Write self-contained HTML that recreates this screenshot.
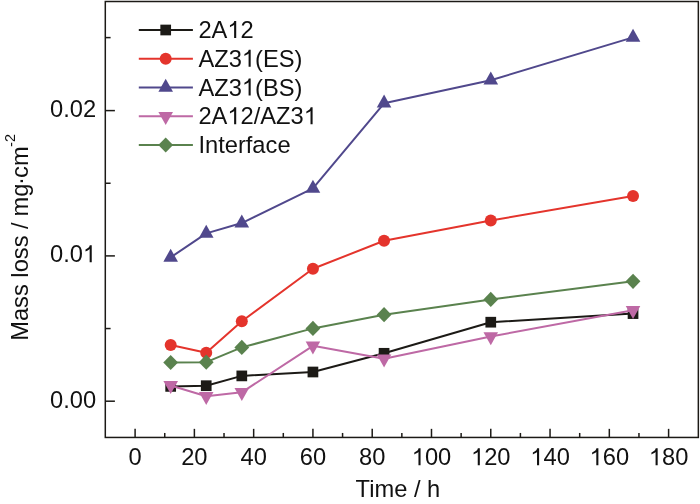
<!DOCTYPE html>
<html><head><meta charset="utf-8"><style>
html,body{margin:0;padding:0;background:#fff;}
body{width:700px;height:504px;overflow:hidden;}
svg{display:block;}
.tk,.yt,.sup{font-family:"Liberation Sans",sans-serif;font-size:23.7px;fill:#111;}
.yt{font-size:23.7px;}
.sup{font-size:14.5px;}
.txt{filter:grayscale(1);}
.o{fill-opacity:0;}
</style></head><body>
<svg width="700" height="504" viewBox="0 0 700 504">
<rect x="105.3" y="1.5" width="593.05" height="435.95" fill="none" stroke="#1c1a16" stroke-width="1.5"/>
<line x1="135.10" y1="437.45" x2="135.10" y2="428.85" stroke="#1c1a16" stroke-width="1.5"/>
<line x1="164.74" y1="437.45" x2="164.74" y2="432.95" stroke="#1c1a16" stroke-width="1.5"/>
<line x1="194.38" y1="437.45" x2="194.38" y2="428.85" stroke="#1c1a16" stroke-width="1.5"/>
<line x1="224.02" y1="437.45" x2="224.02" y2="432.95" stroke="#1c1a16" stroke-width="1.5"/>
<line x1="253.66" y1="437.45" x2="253.66" y2="428.85" stroke="#1c1a16" stroke-width="1.5"/>
<line x1="283.30" y1="437.45" x2="283.30" y2="432.95" stroke="#1c1a16" stroke-width="1.5"/>
<line x1="312.93" y1="437.45" x2="312.93" y2="428.85" stroke="#1c1a16" stroke-width="1.5"/>
<line x1="342.57" y1="437.45" x2="342.57" y2="432.95" stroke="#1c1a16" stroke-width="1.5"/>
<line x1="372.21" y1="437.45" x2="372.21" y2="428.85" stroke="#1c1a16" stroke-width="1.5"/>
<line x1="401.85" y1="437.45" x2="401.85" y2="432.95" stroke="#1c1a16" stroke-width="1.5"/>
<line x1="431.49" y1="437.45" x2="431.49" y2="428.85" stroke="#1c1a16" stroke-width="1.5"/>
<line x1="461.13" y1="437.45" x2="461.13" y2="432.95" stroke="#1c1a16" stroke-width="1.5"/>
<line x1="490.77" y1="437.45" x2="490.77" y2="428.85" stroke="#1c1a16" stroke-width="1.5"/>
<line x1="520.41" y1="437.45" x2="520.41" y2="432.95" stroke="#1c1a16" stroke-width="1.5"/>
<line x1="550.05" y1="437.45" x2="550.05" y2="428.85" stroke="#1c1a16" stroke-width="1.5"/>
<line x1="579.69" y1="437.45" x2="579.69" y2="432.95" stroke="#1c1a16" stroke-width="1.5"/>
<line x1="609.32" y1="437.45" x2="609.32" y2="428.85" stroke="#1c1a16" stroke-width="1.5"/>
<line x1="638.96" y1="437.45" x2="638.96" y2="432.95" stroke="#1c1a16" stroke-width="1.5"/>
<line x1="668.60" y1="437.45" x2="668.60" y2="428.85" stroke="#1c1a16" stroke-width="1.5"/>
<line x1="105.3" y1="401.20" x2="114.90" y2="401.20" stroke="#1c1a16" stroke-width="1.5"/>
<line x1="105.3" y1="328.55" x2="110.60" y2="328.55" stroke="#1c1a16" stroke-width="1.5"/>
<line x1="105.3" y1="255.90" x2="114.90" y2="255.90" stroke="#1c1a16" stroke-width="1.5"/>
<line x1="105.3" y1="183.25" x2="110.60" y2="183.25" stroke="#1c1a16" stroke-width="1.5"/>
<line x1="105.3" y1="110.60" x2="114.90" y2="110.60" stroke="#1c1a16" stroke-width="1.5"/>
<line x1="105.3" y1="37.60" x2="110.60" y2="37.60" stroke="#1c1a16" stroke-width="1.5"/>
<polyline points="170.67,386.40 206.23,385.70 241.80,375.90 312.93,372.00 384.07,353.30 490.77,322.20 633.04,313.60" fill="none" stroke="#1c1a16" stroke-width="2.0" stroke-linejoin="round"/>
<rect x="165.32" y="381.05" width="10.7" height="10.7" fill="#1c1a16"/>
<rect x="200.88" y="380.35" width="10.7" height="10.7" fill="#1c1a16"/>
<rect x="236.45" y="370.55" width="10.7" height="10.7" fill="#1c1a16"/>
<rect x="307.58" y="366.65" width="10.7" height="10.7" fill="#1c1a16"/>
<rect x="378.72" y="347.95" width="10.7" height="10.7" fill="#1c1a16"/>
<rect x="485.42" y="316.85" width="10.7" height="10.7" fill="#1c1a16"/>
<rect x="627.69" y="308.25" width="10.7" height="10.7" fill="#1c1a16"/>
<polyline points="170.67,345.10 206.23,352.70 241.80,321.20 312.93,268.80 384.07,240.70 490.77,220.50 633.04,195.90" fill="none" stroke="#e4342c" stroke-width="2.0" stroke-linejoin="round"/>
<circle cx="170.67" cy="345.10" r="6.0" fill="#e4342c"/>
<circle cx="206.23" cy="352.70" r="6.0" fill="#e4342c"/>
<circle cx="241.80" cy="321.20" r="6.0" fill="#e4342c"/>
<circle cx="312.93" cy="268.80" r="6.0" fill="#e4342c"/>
<circle cx="384.07" cy="240.70" r="6.0" fill="#e4342c"/>
<circle cx="490.77" cy="220.50" r="6.0" fill="#e4342c"/>
<circle cx="633.04" cy="195.90" r="6.0" fill="#e4342c"/>
<polyline points="170.67,257.37 206.23,233.37 241.80,223.07 312.93,188.47 384.07,103.27 490.77,80.27 633.04,37.37" fill="none" stroke="#50488c" stroke-width="2.0" stroke-linejoin="round"/>
<polygon points="170.67,248.70 177.97,261.70 163.37,261.70" fill="#50488c"/>
<polygon points="206.23,224.70 213.53,237.70 198.93,237.70" fill="#50488c"/>
<polygon points="241.80,214.40 249.10,227.40 234.50,227.40" fill="#50488c"/>
<polygon points="312.93,179.80 320.23,192.80 305.63,192.80" fill="#50488c"/>
<polygon points="384.07,94.60 391.37,107.60 376.77,107.60" fill="#50488c"/>
<polygon points="490.77,71.60 498.07,84.60 483.47,84.60" fill="#50488c"/>
<polygon points="633.04,28.70 640.34,41.70 625.74,41.70" fill="#50488c"/>
<polyline points="170.67,385.43 206.23,396.33 241.80,392.33 312.93,345.83 384.07,358.73 490.77,336.53 633.04,310.33" fill="none" stroke="#be69a5" stroke-width="2.0" stroke-linejoin="round"/>
<polygon points="170.67,394.10 177.97,381.10 163.37,381.10" fill="#be69a5"/>
<polygon points="206.23,405.00 213.53,392.00 198.93,392.00" fill="#be69a5"/>
<polygon points="241.80,401.00 249.10,388.00 234.50,388.00" fill="#be69a5"/>
<polygon points="312.93,354.50 320.23,341.50 305.63,341.50" fill="#be69a5"/>
<polygon points="384.07,367.40 391.37,354.40 376.77,354.40" fill="#be69a5"/>
<polygon points="490.77,345.20 498.07,332.20 483.47,332.20" fill="#be69a5"/>
<polygon points="633.04,319.00 640.34,306.00 625.74,306.00" fill="#be69a5"/>
<polyline points="170.67,362.50 206.23,362.20 241.80,347.40 312.93,328.40 384.07,314.70 490.77,299.40 633.04,281.30" fill="none" stroke="#5a824e" stroke-width="2.0" stroke-linejoin="round"/>
<polygon points="170.67,354.90 178.07,362.50 170.67,370.10 163.27,362.50" fill="#5a824e"/>
<polygon points="206.23,354.60 213.63,362.20 206.23,369.80 198.83,362.20" fill="#5a824e"/>
<polygon points="241.80,339.80 249.20,347.40 241.80,355.00 234.40,347.40" fill="#5a824e"/>
<polygon points="312.93,320.80 320.33,328.40 312.93,336.00 305.53,328.40" fill="#5a824e"/>
<polygon points="384.07,307.10 391.47,314.70 384.07,322.30 376.67,314.70" fill="#5a824e"/>
<polygon points="490.77,291.80 498.17,299.40 490.77,307.00 483.37,299.40" fill="#5a824e"/>
<polygon points="633.04,273.70 640.44,281.30 633.04,288.90 625.64,281.30" fill="#5a824e"/>
<line x1="138.8" y1="30.0" x2="192.9" y2="30.0" stroke="#1c1a16" stroke-width="2.0"/>
<rect x="160.35" y="24.65" width="10.7" height="10.7" fill="#1c1a16"/>
<line x1="138.8" y1="58.75" x2="192.9" y2="58.75" stroke="#e4342c" stroke-width="2.0"/>
<circle cx="165.70" cy="58.75" r="6.0" fill="#e4342c"/>
<line x1="138.8" y1="87.5" x2="192.9" y2="87.5" stroke="#50488c" stroke-width="2.0"/>
<polygon points="165.70,78.83 173.00,91.83 158.40,91.83" fill="#50488c"/>
<line x1="138.8" y1="116.25" x2="192.9" y2="116.25" stroke="#be69a5" stroke-width="2.0"/>
<polygon points="165.70,124.92 173.00,111.92 158.40,111.92" fill="#be69a5"/>
<line x1="138.8" y1="145.0" x2="192.9" y2="145.0" stroke="#5a824e" stroke-width="2.0"/>
<polygon points="165.70,137.40 173.10,145.00 165.70,152.60 158.30,145.00" fill="#5a824e"/>
<g class="txt">
<text x="135.10" y="465.2" text-anchor="middle" class="tk">0</text>
<text x="194.38" y="465.2" text-anchor="middle" class="tk">20</text>
<text x="253.66" y="465.2" text-anchor="middle" class="tk">40</text>
<text x="312.93" y="465.2" text-anchor="middle" class="tk">60</text>
<text x="372.21" y="465.2" text-anchor="middle" class="tk">80</text>
<text x="431.49" y="465.2" text-anchor="middle" class="tk"><tspan class="o">1</tspan>00</text>
<text x="490.77" y="465.2" text-anchor="middle" class="tk"><tspan class="o">1</tspan>20</text>
<text x="550.05" y="465.2" text-anchor="middle" class="tk"><tspan class="o">1</tspan>40</text>
<text x="609.32" y="465.2" text-anchor="middle" class="tk"><tspan class="o">1</tspan>60</text>
<text x="668.60" y="465.2" text-anchor="middle" class="tk"><tspan class="o">1</tspan>80</text>
<text x="96.1" y="407.60" text-anchor="end" class="tk">0.00</text>
<text x="96.1" y="262.30" text-anchor="end" class="tk">0.0<tspan class="o">1</tspan></text>
<text x="96.1" y="117.00" text-anchor="end" class="tk">0.02</text>
<text x="198.4" y="38.00" class="tk">2A<tspan class="o">1</tspan>2</text>
<text x="198.4" y="66.75" class="tk">AZ3<tspan class="o">1</tspan>(ES)</text>
<text x="198.4" y="95.50" class="tk">AZ3<tspan class="o">1</tspan>(BS)</text>
<text x="198.4" y="124.25" class="tk">2A<tspan class="o">1</tspan>2/AZ3<tspan class="o">1</tspan></text>
<text x="198.4" y="153.00" class="tk">Interface</text>
<text x="397.9" y="496.6" text-anchor="middle" class="tk">Time / h</text>
<text transform="translate(27.6,340.8) rotate(-90)" class="yt">Mass loss /</text>
<text transform="translate(27.6,216.5) rotate(-90)" class="yt">mg<tspan dx="-1.3">&#183;</tspan><tspan dx="-0.9">cm</tspan></text>
<text transform="translate(15.3,146.9) rotate(-90)" class="sup"><tspan dy="1.1">-</tspan><tspan dy="-1.1">2</tspan></text>
<path d="M763 0L583 0L583 1147Q518 1085 419 1027Q320 969 223 933L223 1107Q397 1189 462 1247Q528 1306 556 1361Q584 1416 597 1466L763 1466Z" transform="translate(411.72,465.20) scale(0.011572,-0.011572)" fill="#111"/>
<path d="M763 0L583 0L583 1147Q518 1085 419 1027Q320 969 223 933L223 1107Q397 1189 462 1247Q528 1306 556 1361Q584 1416 597 1466L763 1466Z" transform="translate(471.00,465.20) scale(0.011572,-0.011572)" fill="#111"/>
<path d="M763 0L583 0L583 1147Q518 1085 419 1027Q320 969 223 933L223 1107Q397 1189 462 1247Q528 1306 556 1361Q584 1416 597 1466L763 1466Z" transform="translate(530.28,465.20) scale(0.011572,-0.011572)" fill="#111"/>
<path d="M763 0L583 0L583 1147Q518 1085 419 1027Q320 969 223 933L223 1107Q397 1189 462 1247Q528 1306 556 1361Q584 1416 597 1466L763 1466Z" transform="translate(589.55,465.20) scale(0.011572,-0.011572)" fill="#111"/>
<path d="M763 0L583 0L583 1147Q518 1085 419 1027Q320 969 223 933L223 1107Q397 1189 462 1247Q528 1306 556 1361Q584 1416 597 1466L763 1466Z" transform="translate(648.83,465.20) scale(0.011572,-0.011572)" fill="#111"/>
<path d="M763 0L583 0L583 1147Q518 1085 419 1027Q320 969 223 933L223 1107Q397 1189 462 1247Q528 1306 556 1361Q584 1416 597 1466L763 1466Z" transform="translate(82.91,262.30) scale(0.011572,-0.011572)" fill="#111"/>
<path d="M763 0L583 0L583 1147Q518 1085 419 1027Q320 969 223 933L223 1107Q397 1189 462 1247Q528 1306 556 1361Q584 1416 597 1466L763 1466Z" transform="translate(227.38,38.00) scale(0.011572,-0.011572)" fill="#111"/>
<path d="M763 0L583 0L583 1147Q518 1085 419 1027Q320 969 223 933L223 1107Q397 1189 462 1247Q528 1306 556 1361Q584 1416 597 1466L763 1466Z" transform="translate(241.85,66.75) scale(0.011572,-0.011572)" fill="#111"/>
<path d="M763 0L583 0L583 1147Q518 1085 419 1027Q320 969 223 933L223 1107Q397 1189 462 1247Q528 1306 556 1361Q584 1416 597 1466L763 1466Z" transform="translate(241.85,95.50) scale(0.011572,-0.011572)" fill="#111"/>
<path d="M763 0L583 0L583 1147Q518 1085 419 1027Q320 969 223 933L223 1107Q397 1189 462 1247Q528 1306 556 1361Q584 1416 597 1466L763 1466Z" transform="translate(227.38,124.25) scale(0.011572,-0.011572)" fill="#111"/>
<path d="M763 0L583 0L583 1147Q518 1085 419 1027Q320 969 223 933L223 1107Q397 1189 462 1247Q528 1306 556 1361Q584 1416 597 1466L763 1466Z" transform="translate(303.77,124.25) scale(0.011572,-0.011572)" fill="#111"/>
</g>
</svg>
</body></html>
